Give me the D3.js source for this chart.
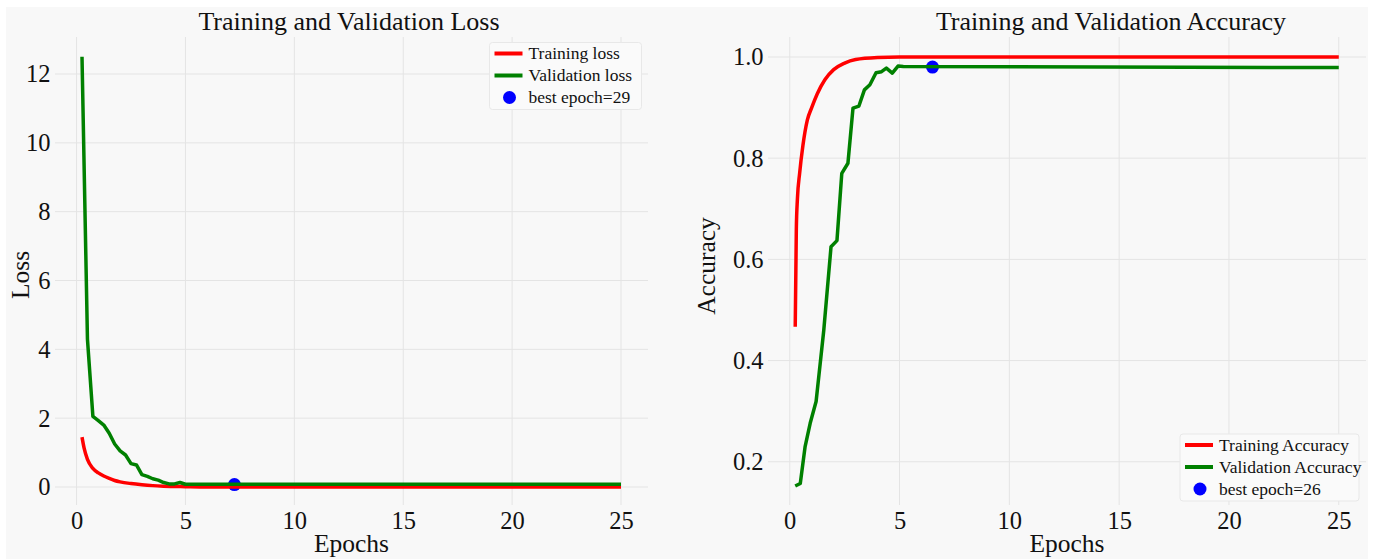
<!DOCTYPE html>
<html>
<head>
<meta charset="utf-8">
<script src="https://cdn.jsdelivr.net/npm/d3@7"></script>
<style>
  html, body { margin: 0; padding: 0; background: #ffffff; }
  svg { display: block; font-family: "Liberation Serif", "Times New Roman", serif; }
</style>
</head>
<body>
<div id="chart"></div>
<script>
// ticks
const xTicks = [0, 5, 10, 15, 20, 25];
const lossTicks = [0, 2, 4, 6, 8, 10, 12];
const accTicks = [0.2, 0.4, 0.6, 0.8, 1.0];

// [epoch, value]
const trainLoss = [[0.25, 1.45], [0.35, 1.12], [0.5, 0.8], [0.75, 0.54], [1.0, 0.41], [1.25, 0.32],
  [1.5, 0.25], [1.75, 0.19], [2.0, 0.15], [2.5, 0.1], [3.0, 0.065], [3.5, 0.04], [4.0, 0.025],
  [5.0, 0.01], [6.0, 0.0], [25, 0.0]];
const valLoss = [[0.25, 12.5], [0.5, 4.3], [0.75, 2.05], [1.0, 1.93], [1.25, 1.8], [1.5, 1.56],
  [1.75, 1.25], [2.0, 1.05], [2.25, 0.93], [2.5, 0.68], [2.75, 0.64], [3.0, 0.36], [3.25, 0.31],
  [3.5, 0.24], [3.75, 0.2], [4.0, 0.13], [4.25, 0.09], [4.5, 0.09], [4.75, 0.13], [5.0, 0.08], [25, 0.08]];
const trainAcc = [[0.25, 0.467], [0.3, 0.66], [0.35, 0.72], [0.45, 0.77], [0.6, 0.825], [0.8, 0.875],
  [1.0, 0.9], [1.25, 0.927], [1.6, 0.955], [2.0, 0.975], [2.5, 0.988], [3.0, 0.995], [4.0, 0.999],
  [5.0, 1.0], [25, 1.0]];
const valAcc = [[0.25, 0.152], [0.48, 0.157], [0.7, 0.23], [0.93, 0.276], [1.2, 0.319], [1.55, 0.46],
  [1.88, 0.625], [2.15, 0.637], [2.37, 0.77], [2.65, 0.79], [2.88, 0.899], [3.15, 0.903], [3.4, 0.935],
  [3.65, 0.945], [3.93, 0.969], [4.18, 0.971], [4.4, 0.978], [4.67, 0.968], [4.93, 0.982], [5.17, 0.981],
  [25, 0.979]];

const bestLoss = [7.25, 0.07];   // epoch 29
const bestAcc = [6.5, 0.98];     // epoch 26

const lossLegend = ["Training loss", "Validation loss", "best epoch=29"];
const accLegend = ["Training Accuracy", "Validation Accuracy", "best epoch=26"];

const W = 1374, H = 559;
const textColor = "#111";

const svg = d3.select("#chart").append("svg")
  .attr("width", W)
  .attr("height", H);

// figure background
svg.append("rect")
  .attr("x", 6).attr("y", 7)
  .attr("width", 1362).attr("height", H - 7)
  .attr("fill", "#f8f8f8");

function drawPanel(o) {
  const x = d3.scaleLinear().domain([-0.99, 26.24]).range([o.left, o.right]);
  const y = d3.scaleLinear().domain(o.yDomain).range([o.bottom, o.top]);
  const g = svg.append("g");

  // grid
  g.append("g").selectAll("line").data(xTicks).enter().append("line")
    .attr("x1", d => x(d)).attr("x2", d => x(d))
    .attr("y1", o.top).attr("y2", o.bottom)
    .attr("stroke", "#e4e4e4").attr("stroke-width", 1);
  g.append("g").selectAll("line").data(o.yTicks).enter().append("line")
    .attr("x1", o.left).attr("x2", o.right)
    .attr("y1", d => y(d)).attr("y2", d => y(d))
    .attr("stroke", "#e4e4e4").attr("stroke-width", 1);

  // axes (labels only)
  const ax = g.append("g")
    .attr("transform", `translate(0,${o.bottom})`)
    .call(d3.axisBottom(x).tickValues(xTicks).tickSize(0).tickPadding(6.6).tickFormat(d3.format("d")));
  const ay = g.append("g")
    .attr("transform", `translate(${o.left},0)`)
    .call(d3.axisLeft(y).tickValues(o.yTicks).tickSize(0).tickPadding(4.5).tickFormat(o.fmt));
  [ax, ay].forEach(a => {
    a.select(".domain").remove();
    a.selectAll("text")
      .attr("fill", textColor)
      .style("font-family", "Liberation Serif")
      .style("font-size", "24.5px");
  });

  // best epoch dot (under the lines, like matplotlib)
  g.append("circle")
    .attr("cx", x(o.best[0])).attr("cy", y(o.best[1]))
    .attr("r", 6.5).attr("fill", "#0000ff");

  const line = d3.line().x(d => x(d[0])).y(d => y(d[1]));
  const smooth = d3.line().x(d => x(d[0])).y(d => y(d[1])).curve(d3.curveMonotoneX);

  g.append("path").datum(o.train)
    .attr("d", smooth).attr("fill", "none")
    .attr("stroke", "#ff0000").attr("stroke-width", 3.5)
    .attr("stroke-linejoin", "round").attr("stroke-linecap", "butt");
  g.append("path").datum(o.val)
    .attr("d", line).attr("fill", "none")
    .attr("stroke", "#008000").attr("stroke-width", 3.5)
    .attr("stroke-linejoin", "round").attr("stroke-linecap", "butt");

  // title and axis labels
  g.append("text")
    .attr("x", o.titleX).attr("y", 30)
    .attr("text-anchor", "middle")
    .attr("fill", textColor)
    .style("font-size", "26px")
    .text(o.title);
  g.append("text")
    .attr("x", (o.left + o.right) / 2).attr("y", 552)
    .attr("text-anchor", "middle")
    .attr("fill", textColor)
    .style("font-size", "25.5px")
    .text("Epochs");
  g.append("text")
    .attr("transform", `translate(${o.ylabelX},${o.ylabelY}) rotate(-90)`)
    .attr("text-anchor", "middle")
    .attr("fill", textColor)
    .style("font-size", "25.5px")
    .text(o.ylabel);

  // legend
  const lg = g.append("g").attr("transform", `translate(${o.legend.x},${o.legend.y})`);
  lg.append("rect")
    .attr("width", o.legend.w).attr("height", 67)
    .attr("rx", 3)
    .attr("fill", "#fafafa").attr("stroke", "#e8e8e8").attr("stroke-width", 1);
  const rows = [11, 33, 55];
  lg.append("line").attr("x1", 5).attr("x2", 33).attr("y1", rows[0]).attr("y2", rows[0])
    .attr("stroke", "#ff0000").attr("stroke-width", 4);
  lg.append("line").attr("x1", 5).attr("x2", 33).attr("y1", rows[1]).attr("y2", rows[1])
    .attr("stroke", "#008000").attr("stroke-width", 4);
  lg.append("circle").attr("cx", 20).attr("cy", rows[2]).attr("r", 6.5).attr("fill", "#0000ff");
  lg.selectAll("text.item").data(o.legendText).enter().append("text")
    .attr("class", "item")
    .attr("x", 39).attr("y", (d, i) => rows[i])
    .attr("dy", "0.33em")
    .attr("fill", textColor)
    .style("font-size", "17.5px")
    .text(d => d);
}

drawPanel({
  left: 55, right: 648, top: 37, bottom: 505,
  yDomain: [-0.523, 13.075], yTicks: lossTicks, fmt: d3.format("d"),
  train: trainLoss, val: valLoss, best: bestLoss,
  title: "Training and Validation Loss", titleX: 349,
  ylabel: "Loss", ylabelX: 29, ylabelY: 275,
  legend: { x: 489.5, y: 42.5, w: 152 }, legendText: lossLegend
});

drawPanel({
  left: 768, right: 1366, top: 37, bottom: 505,
  yDomain: [0.1145, 1.0395], yTicks: accTicks, fmt: d3.format(".1f"),
  train: trainAcc, val: valAcc, best: bestAcc,
  title: "Training and Validation Accuracy", titleX: 1111,
  ylabel: "Accuracy", ylabelX: 715, ylabelY: 266,
  legend: { x: 1180, y: 434, w: 179 }, legendText: accLegend
});
</script>
</body>
</html>
